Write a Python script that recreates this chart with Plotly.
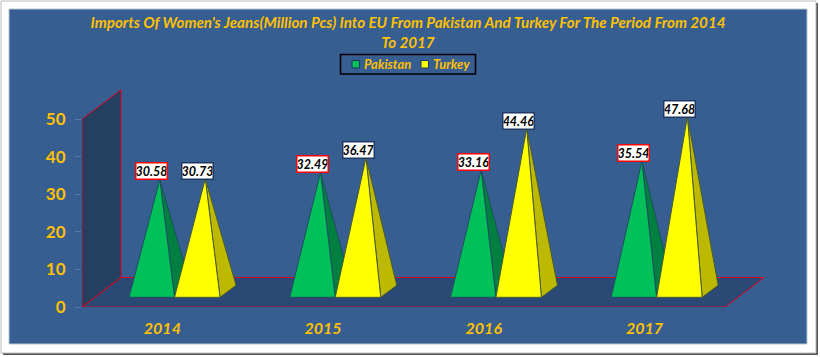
import plotly.graph_objects as go

# ---- data ----
years = ["2014", "2015", "2016", "2017"]
pakistan = [30.58, 32.49, 33.16, 35.54]
turkey = [30.73, 36.47, 44.46, 47.68]
y_ticks = [0, 10, 20, 30, 40, 50]
title_text = "Imports Of Women's Jeans(Million Pcs) Into EU From Pakistan And Turkey For The Period From 2014<br>To 2017"

# ---- styles ----
FONT = "Lato"
ORANGE = "#FFC000"
PANEL = "#365E91"
W, H = 820, 357
L, R, T, B = 82, 56, 89, 50
PW, PH = W - L - R, H - T - B
PX_PER_CAT = 160.7
PX_PER_VAL = 3.755


def px(p):
    return (p - L) / PW


def py(p):
    return (H - B - p) / PH


# geometry in axis units
bar_w = 45.5 / PX_PER_CAT
gap_off = 12.2 / PX_PER_CAT
depth_x = 16 / PX_PER_CAT
depth_y = 12 / PX_PER_VAL
base_y = 9.7 / PX_PER_VAL
height_scale = 0.975
xmin = -0.5
xmax = xmin + PW / PX_PER_CAT
ymax = PH / PX_PER_VAL
wall_x = 39 / PX_PER_CAT
wall_y = 29.5 / PX_PER_VAL
x_end = xmin + 643 / PX_PER_CAT


def faces(values, left_side):
    fx, fy, sx, sy = [], [], [], []
    for i, v in enumerate(values):
        right = i + gap_off + (0 if left_side else bar_w)
        left = right - bar_w
        ax = (left + right) / 2 + depth_x / 2
        ay = base_y + depth_y / 2 + v * height_scale
        fx += [left, right, ax, left, None]
        fy += [base_y, base_y, ay, base_y, None]
        sx += [right, right + depth_x, ax, right, None]
        sy += [base_y, base_y + depth_y, ay, base_y, None]
    return fx, fy, sx, sy


fig = go.Figure()
series = [
    ("Pakistan", pakistan, True, "#00C05A", "#008040", "#1F4E5F", 352, 363),
    ("Turkey", turkey, False, "#FFFF00", "#BDB800", "#4A5A30", 421, 432),
]
for name, vals, is_left, front, side, edge, _, _ in series:
    fx, fy, sx, sy = faces(vals, is_left)
    fig.add_trace(go.Scatter(x=sx, y=sy, mode="lines", fill="toself", fillcolor=side, name=name,
                             line=dict(color=edge, width=1), showlegend=False, hoverinfo="skip"))
    fig.add_trace(go.Scatter(x=fx, y=fy, mode="lines", fill="toself", fillcolor=front, name=name,
                             line=dict(color=edge, width=1), showlegend=False, hoverinfo="skip"))

annotations = []
for name, vals, is_left, *_ in series:
    for i, v in enumerate(vals):
        cx = i + gap_off + (-bar_w / 2 if is_left else bar_w / 2)
        ay = base_y + depth_y / 2 + v * height_scale
        annotations.append(dict(
            x=cx, y=ay, xref="x", yref="y", text=f"{v:.2f}", showarrow=False,
            yanchor="bottom", xanchor="center", yshift=-1,
            font=dict(family=FONT, size=12.5, color="black", weight=700, style="italic"),
            bgcolor="white", bordercolor="#FF0000" if is_left else "#1F3864",
            borderwidth=1.5, borderpad=0, width=30, height=15,
        ))

shapes = [
    dict(type="rect", xref="paper", yref="paper", x0=px(3), x1=px(818), y0=py(355), y1=py(3),
         fillcolor="#555555", line_width=0, layer="below"),
    dict(type="rect", xref="paper", yref="paper", x0=px(1), x1=px(816), y0=py(353), y1=py(1),
         fillcolor="white", line=dict(color="#BBBBBB", width=1), layer="below"),
    dict(type="rect", xref="paper", yref="paper", x0=px(9), x1=px(807), y0=py(344), y1=py(9),
         fillcolor=PANEL, line=dict(color="#B8C4D4", width=1), layer="below"),
    # floor
    dict(type="path", xref="x", yref="y", layer="below",
         path=f"M {xmin} 0 L {xmin + wall_x} {wall_y} L {x_end + wall_x} {wall_y} L {x_end} 0 Z",
         fillcolor="#2A4A75", line=dict(color="#E00020", width=1)),
    # side wall
    dict(type="path", xref="x", yref="y", layer="below",
         path=f"M {xmin} 0 L {xmin} 50 L {xmin + wall_x} {50 + wall_y} L {xmin + wall_x} {wall_y} Z",
         fillcolor="#243F60", line=dict(color="#E00020", width=1)),
    # legend box
    dict(type="rect", xref="paper", yref="paper", x0=px(340.5), x1=px(475.5), y0=py(74), y1=py(54.5),
         fillcolor=PANEL, line=dict(color="black", width=1.5), layer="below"),
]
# legend entries
for name, _, _, front, _, _, swatch_x, text_x in series:
    shapes.append(dict(type="rect", xref="paper", yref="paper", x0=px(swatch_x), x1=px(swatch_x + 7.5),
                       y0=py(68), y1=py(60.5), fillcolor=front,
                       line=dict(color="#1F3864", width=1), layer="above"))
    annotations.append(dict(xref="paper", yref="paper", x=px(text_x), y=py(64), text=name,
                            showarrow=False, xanchor="left", yanchor="middle", xshift=-1,
                            font=dict(family=FONT, size=13, color=ORANGE, weight=700, style="italic")))

fig.update_layout(
    width=W, height=H,
    margin=dict(l=L, r=R, t=T, b=B),
    paper_bgcolor="white", plot_bgcolor="rgba(0,0,0,0)",
    showlegend=False,
    title=dict(text=title_text, x=408 / W, xanchor="center", y=1 - 28 / H, yanchor="middle",
               font=dict(family=FONT, size=15.2, color=ORANGE, weight=700, style="italic")),
    xaxis=dict(range=[xmin, xmax], tickvals=list(range(len(years))), ticktext=years,
               showgrid=False, zeroline=False, showline=False, ticks="", ticklabelstandoff=10,
               tickfont=dict(family=FONT, size=16, color=ORANGE, weight=700, style="italic")),
    yaxis=dict(range=[0, ymax], tickvals=y_ticks, showgrid=False, zeroline=False, showline=False,
               ticks="outside", ticklen=6, tickcolor="#5A7AA3", ticklabelstandoff=6,
               tickfont=dict(family=FONT, size=17, color=ORANGE, weight=700)),
    shapes=shapes, annotations=annotations,
)
fig.write_html("out.html", config={"displayModeBar": False},
               post_script="document.body.style.margin='0';")
